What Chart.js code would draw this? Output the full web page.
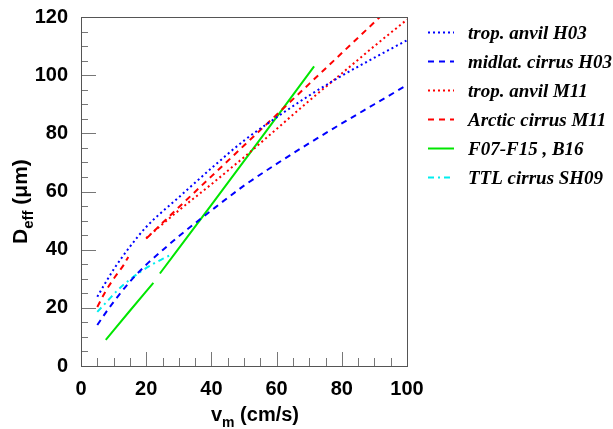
<!DOCTYPE html>
<html>
<head>
<meta charset="utf-8">
<script src="https://cdn.jsdelivr.net/npm/chart.js@4"></script>
<style>
  html, body { margin: 0; padding: 0; background: #fff; }
  #wrap { width: 613px; height: 429px; }
</style>
</head>
<body>
<div id="wrap"><canvas id="chart" width="613" height="429"></canvas></div>
<script>
// fall speed v_m (cm/s) against effective diameter D_eff (um), one pair of arrays per curve
let tropAnvilH03_v = [5, 7.5, 10, 15, 20, 30, 40, 50, 60, 70, 80, 90, 100];
let tropAnvilH03_d = [23.8, 28.6, 33.2, 41, 47.8, 58, 68, 77.5, 85.5, 93, 99.8, 106, 112];

let midlatH03_v = [5, 7.5, 10, 15, 20, 25, 30, 40, 50, 60, 70, 80, 90, 100];
let midlatH03_d = [14.1, 18.2, 22, 29, 34.8, 39.8, 44.6, 53.5, 62, 69.5, 76.6, 83.4, 90, 96.6];

let tropAnvilM11_v = [20, 30, 40, 50, 60, 70, 80, 90, 100];
let tropAnvilM11_d = [44, 53.5, 62.5, 71.8, 81.5, 91.2, 100.6, 110, 119.1];

// null splits the line in two pieces
let arcticM11_v = [5, 7.5, 10.4, 13, 14.5, 17, 20, 30, 40, 50, 60, 70, 80, 91.7];
let arcticM11_d = [20.3, 25.6, 30.6, 34.6, 37.5, null, 43.8, 54.6, 65.2, 75.8, 86.4, 97, 107.6, 120];

let b16_v = [7.6, 15, 22.2, 23.2, 24.2, 40, 55, 71.5];
let b16_d = [9, 19, 28.6, null, 31.8, 55.4, 78, 103];

let ttlSH09_v = [5, 8, 11, 14, 18, 22, 25, 27.5];
let ttlSH09_d = [18.6, 22.2, 25.8, 28.8, 32.2, 35, 36.8, 38.2];

let xTicks = [0, 20, 40, 60, 80, 100];
let yTicks = [0, 20, 40, 60, 80, 100, 120];

function pts(vs, ds) {
    return vs.map((v, i) => ({ x: v, y: ds[i] }));
}

function line(label, vs, ds, color, dash) {
    return {
        label: label,
        data: pts(vs, ds),
        borderColor: color,
        backgroundColor: color,
        borderWidth: 2,
        borderDash: dash,
        pointRadius: 0,
        fill: false,
        spanGaps: false,
        cubicInterpolationMode: 'monotone'
    };
}

const BLUE = '#0000ff', RED = '#ff0000', GREEN = '#00e600', CYAN = '#00eeee';
const DOT = [2, 3], DASH = [6, 5], DASHDOT = [6, 4, 2, 4];

let datasets = [
    line('trop. anvil H03', tropAnvilH03_v, tropAnvilH03_d, BLUE, DOT),
    line('midlat. cirrus H03', midlatH03_v, midlatH03_d, BLUE, DASH),
    line('trop. anvil M11', tropAnvilM11_v, tropAnvilM11_d, RED, DOT),
    line('Arctic cirrus M11', arcticM11_v, arcticM11_d, RED, DASH),
    line('F07-F15 , B16', b16_v, b16_d, GREEN, []),
    line('TTL cirrus SH09', ttlSH09_v, ttlSH09_d, CYAN, DASHDOT)
];

// frame, inward ticks, axis titles with subscripts and the legend
const decor = {
    id: 'decor',
    afterDraw(chart) {
        let ctx = chart.ctx;
        let a = chart.chartArea;
        let xs = chart.scales.x, ys = chart.scales.y;
        ctx.save();

        ctx.strokeStyle = '#777';
        ctx.lineWidth = 1;
        ctx.beginPath();
        for (let v = 0; v <= 100; v += 5) {
            let px = Math.round(xs.getPixelForValue(v)) + 0.5;
            let len = (v % 20 == 0) ? 14 : 8;
            ctx.moveTo(px, a.bottom);
            ctx.lineTo(px, a.bottom - len);
        }
        for (let v = 0; v <= 120; v += 5) {
            let py = Math.round(ys.getPixelForValue(v)) + 0.5;
            let len = (v % 20 == 0) ? 15 : 7;
            ctx.moveTo(a.left, py);
            ctx.lineTo(a.left + len, py);
        }
        ctx.stroke();

        ctx.strokeStyle = '#555';
        ctx.strokeRect(Math.round(a.left) + 0.5, Math.round(a.top) + 0.5,
                       Math.round(a.right - a.left), Math.round(a.bottom - a.top));

        // x title: v_m (cm/s)
        ctx.fillStyle = '#000';
        ctx.textBaseline = 'alphabetic';
        ctx.textAlign = 'left';
        let big = 'bold 20px "Liberation Sans", Arial, sans-serif';
        let small = 'bold 14px "Liberation Sans", Arial, sans-serif';
        let parts = [['v', big, 0], ['m', small, 6], [' (cm/s)', big, 0]];
        let w = 0;
        parts.forEach(p => { ctx.font = p[1]; w += ctx.measureText(p[0]).width; });
        let x = 299 - w;
        parts.forEach(p => {
            ctx.font = p[1];
            ctx.fillText(p[0], x, 421 + p[2]);
            x += ctx.measureText(p[0]).width;
        });

        // y title: D_eff (um), reading upwards
        ctx.save();
        ctx.translate(27, 0);
        ctx.rotate(-Math.PI / 2);
        let ybig = 'bold 21px "Liberation Sans", Arial, sans-serif';
        let ysmall = 'bold 15px "Liberation Sans", Arial, sans-serif';
        let yparts = [['D', ybig, 0], ['eff', ysmall, 6], [' (\u03bcm)', ybig, 0]];
        let pos = -244;
        yparts.forEach(p => {
            ctx.font = p[1];
            ctx.fillText(p[0], pos, p[2]);
            pos += ctx.measureText(p[0]).width;
        });
        ctx.restore();

        // legend
        ctx.font = 'italic bold 19px "Liberation Serif", "Times New Roman", serif';
        chart.data.datasets.forEach((ds, i) => {
            let ly = Math.round(32.3 + 28.85 * i) + 0.5;
            ctx.strokeStyle = ds.borderColor;
            ctx.lineWidth = 2;
            ctx.setLineDash(ds.borderDash);
            ctx.beginPath();
            ctx.moveTo(428, ly);
            ctx.lineTo(454, ly);
            ctx.stroke();
            ctx.setLineDash([]);
            ctx.fillStyle = '#000';
            ctx.fillText(ds.label, 468, ly + 6);
        });

        ctx.restore();
    }
};

const tickFont = { family: '"Liberation Sans", Arial, sans-serif', size: 20, weight: 'bold' };

let chart = new Chart(document.getElementById('chart'), {
    type: 'line',
    data: { datasets: datasets },
    options: {
        responsive: false,
        animation: false,
        events: [],
        layout: { padding: { left: 0, top: 16, right: 206, bottom: 0 } },
        plugins: {
            legend: { display: false },
            tooltip: { enabled: false }
        },
        scales: {
            x: {
                type: 'linear',
                min: 0,
                max: 100,
                afterFit: (s) => { s.height = 63; },
                afterBuildTicks: (s) => { s.ticks = xTicks.map(v => ({ value: v })); },
                grid: { display: false },
                border: { display: false },
                ticks: { font: tickFont, color: '#000', padding: 3, maxRotation: 0 }
            },
            y: {
                type: 'linear',
                min: 0,
                max: 120,
                afterFit: (s) => { s.width = 81; },
                afterBuildTicks: (s) => { s.ticks = yTicks.map(v => ({ value: v })); },
                grid: { display: false },
                border: { display: false },
                ticks: { font: tickFont, color: '#000', padding: 5 }
            }
        }
    },
    plugins: [decor]
});
</script>
</body>
</html>
